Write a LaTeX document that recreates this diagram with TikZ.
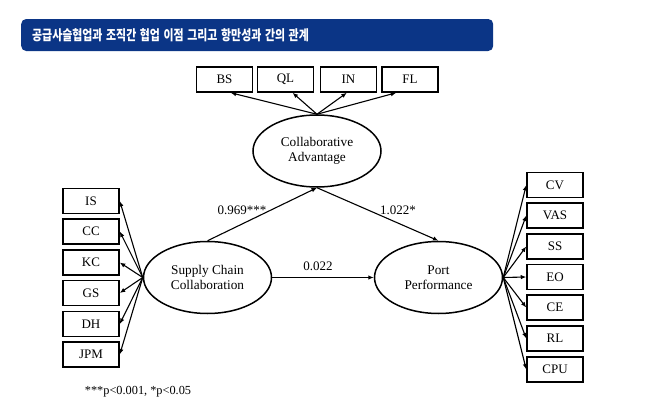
\documentclass[tikz,border=0pt]{standalone}
\usepackage{fontspec}
\setmainfont{Liberation Serif}
\newfontfamily\cjk{Noto Sans CJK KR}
\usetikzlibrary{shapes.geometric,arrows.meta}
\definecolor{barblue}{HTML}{0B3586}

\begin{document}
\begin{tikzpicture}
  [x=1pt,y=-1pt,
    item/.style={draw,line width=1.5pt,minimum width=56pt,
    minimum height=25pt,inner sep=0pt,font=\fontsize{13}{14}\selectfont},
    latent/.style={draw,ellipse,line width=1.5pt,minimum width=128pt,
    minimum height=72pt,inner sep=0pt,align=center,
    font=\fontsize{13.3}{15}\selectfont},
    link/.style={-{Latex[length=5.5pt,width=4.5pt]},line width=1.1pt},
    coef/.style={font=\fontsize{13}{14}\selectfont}]
  \useasboundingbox (0,0) rectangle (649,415);
  \node[fill=barblue,rounded corners=5pt,anchor=west,text width=450pt,
    inner xsep=11pt,minimum height=32pt,text=white,
    font=\cjk\bfseries\fontsize{14}{16}\selectfont] (title) at (21,35)
    {\scalebox{0.78}[1]{공급사슬협업과 조직간 협업 이점 그리고 항만성과 간의 관계}};

  \node[latent] (ca) at (317,151) {Collaborative\\Advantage};
  \node[latent] (scc) at (207.5,277.5) {Supply Chain\\Collaboration};
  \node[latent] (pp) at (438.5,277.5) {Port\\Performance};

  \node[item] (bs) at (224.5,79.5) {BS};
  \node[item] (ql) at (285.5,79.5) {QL};
  \node[item] (in) at (348.5,79.5) {IN};
  \node[item] (fl) at (410,79.5) {FL};

  \node[item] (is) at (91,201) {IS};
  \node[item] (cc) at (91,231.5) {CC};
  \node[item] (kc) at (91,262.5) {KC};
  \node[item] (gs) at (91,293) {GS};
  \node[item] (dh) at (91,324) {DH};
  \node[item] (jpm) at (91,354.5) {JPM};

  \node[item] (cv) at (555,185) {CV};
  \node[item] (vas) at (555,215.5) {VAS};
  \node[item] (ss) at (555,246.5) {SS};
  \node[item] (eo) at (555,277) {EO};
  \node[item] (ce) at (555,307.5) {CE};
  \node[item] (rl) at (555,338.5) {RL};
  \node[item] (cpu) at (555,369.5) {CPU};

  \draw[link] (ca.north) -- (bs.-65);
  \draw[link] (ca.north) -- (ql.-62);
  \draw[link] (ca.north) -- (in.-97);
  \draw[link] (ca.north) -- (fl.-136);

  \draw[link] (scc.west) -- (is.east);
  \draw[link] (scc.west) -- (cc.east);
  \draw[link] (scc.west) -- (kc.east);
  \draw[link] (scc.west) -- (gs.east);
  \draw[link] (scc.west) -- (dh.east);
  \draw[link] (scc.west) -- (jpm.east);

  \draw[link] (pp.east) -- (cv.west);
  \draw[link] (pp.east) -- (vas.west);
  \draw[link] (pp.east) -- (ss.west);
  \draw[link] (pp.east) -- (eo.west);
  \draw[link] (pp.east) -- (ce.west);
  \draw[link] (pp.east) -- (rl.west);
  \draw[link] (pp.east) -- (cpu.west);

  \draw[link] (scc.north) -- (ca.south);
  \draw[link] (ca.south) -- (pp.north);
  \draw[link] (scc.east) -- (pp.west);

  \node[coef] (b1) at (242,210) {0.969***};
  \node[coef] (b2) at (398,210) {1.022*};
  \node[coef] (b3) at (318,266) {0.022};
  \node[coef,font=\fontsize{12.3}{14}\selectfont] (note) at (138,392) {***p<0.001, *p<0.05};
\end{tikzpicture}
\end{document}
